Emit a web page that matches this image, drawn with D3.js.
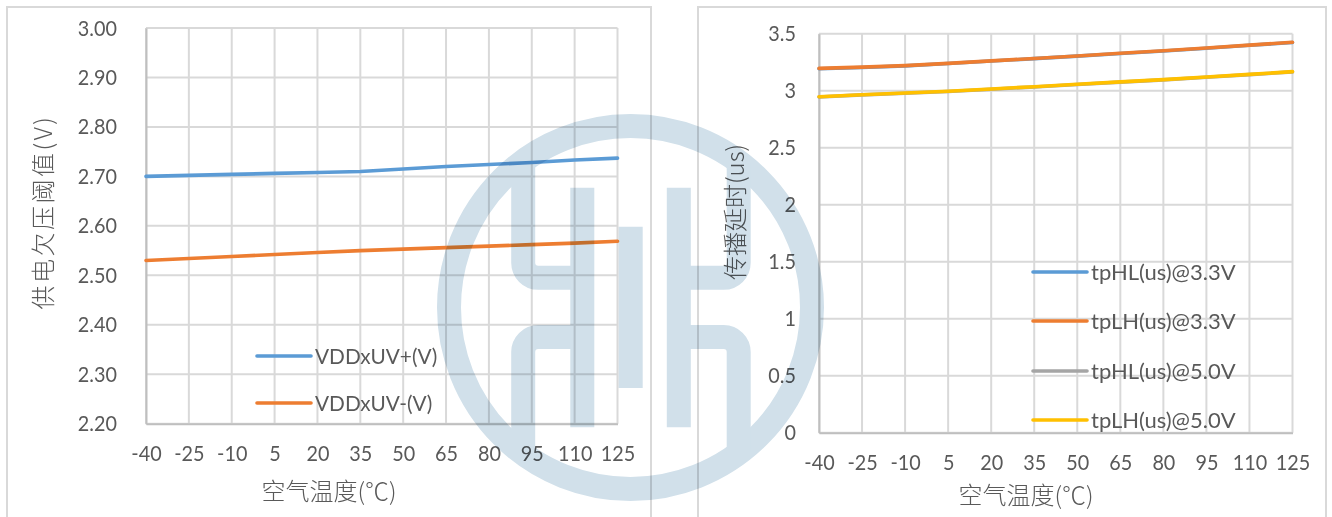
<!DOCTYPE html>
<html><head><meta charset="utf-8">
<script src="https://cdn.jsdelivr.net/npm/d3@7"></script>
<style>
html,body{margin:0;padding:0;background:#fff;overflow:hidden}
svg{display:block}
text{font-family:Lato,"Noto Sans CJK SC",sans-serif;fill:#595959}
.cjk{font-family:"Noto Sans CJK SC",Lato,sans-serif}
</style></head><body>
<svg id="c" width="1332" height="517"></svg>
<script>
const temps = [-40,-25,-10,5,20,35,50,65,80,95,110,125];
const uvPlus  = [2.700,2.702,2.704,2.706,2.708,2.710,2.715,2.720,2.724,2.728,2.733,2.737];
const uvMinus = [2.530,2.534,2.538,2.542,2.546,2.550,2.553,2.556,2.559,2.562,2.565,2.569];
const tpHL33 = [3.193,3.204,3.218,3.238,3.260,3.281,3.303,3.326,3.348,3.373,3.398,3.423];
const tpLH33 = [3.196,3.207,3.220,3.240,3.262,3.283,3.305,3.328,3.350,3.375,3.400,3.425];
const tpHL50 = [2.945,2.963,2.978,2.993,3.013,3.033,3.055,3.075,3.095,3.118,3.141,3.165];
const tpLH50 = [2.947,2.965,2.980,2.995,3.015,3.035,3.057,3.077,3.097,3.120,3.143,3.167];
const leftTicks = [2.2,2.3,2.4,2.5,2.6,2.7,2.8,2.9,3.0];
const rightTicks = [0,0.5,1,1.5,2,2.5,3,3.5];
const BLUE="#5b9bd5",ORANGE="#ed7d31",GREY="#a5a5a5",YELLOW="#ffc000";

const svg = d3.select("#c");

// the reference's labels are a little narrower than Lato at the same height
function squeeze(sel,f){
  sel.each(function(){
    const w=this.getComputedTextLength();
    d3.select(this).attr("textLength",w*f).attr("lengthAdjust","spacingAndGlyphs");
  });
}

function panel(o){
  const g = svg.append("g");
  g.append("rect").attr("x",o.frame[0]).attr("y",o.frame[1]).attr("width",o.frame[2]-o.frame[0]).attr("height",o.frame[3]-o.frame[1])
    .attr("fill","#fff").attr("stroke","#d9d9d9").attr("stroke-width",2);
  const x = d3.scalePoint().domain(temps).range([o.x0,o.x1]);
  const y = d3.scaleLinear().domain(o.domain).range([o.y0,o.y1]);
  g.append("g").selectAll("line").data(o.ticks).join("line")
    .attr("x1",o.x0).attr("x2",o.x1).attr("y1",d=>y(d)).attr("y2",d=>y(d))
    .attr("stroke","#d9d9d9").attr("stroke-width",2);
  g.append("g").selectAll("line").data(temps).join("line")
    .attr("x1",d=>x(d)).attr("x2",d=>x(d)).attr("y1",o.y0).attr("y2",o.y1)
    .attr("stroke","#d9d9d9").attr("stroke-width",2);
  const ax = g.append("g").attr("transform",`translate(0,${o.y0})`).call(d3.axisBottom(x).tickSize(0).tickPadding(o.xPad));
  ax.select(".domain").attr("stroke","#bfbfbf").attr("stroke-width",2);
  ax.selectAll("text").attr("font-size",22).style("font-family","Lato").call(squeeze,0.9);
  const ay = g.append("g").attr("transform",`translate(${o.x0},0)`).call(d3.axisLeft(y).tickValues(o.ticks).tickFormat(o.fmt).tickSize(0).tickPadding(o.yPad));
  ay.select(".domain").attr("stroke","#bfbfbf").attr("stroke-width",2);
  ay.selectAll("text").attr("font-size",22).style("font-family","Lato").call(squeeze,0.9);
  const line = d3.line().x((d,i)=>x(temps[i])).y(d=>y(d));
  o.series.forEach(s=>{
    g.append("path").datum(s.values).attr("d",line).attr("fill","none").attr("stroke",s.color)
      .attr("stroke-width",3.6).attr("stroke-linecap","round");
  });
  o.series.forEach((s,i)=>{
    const ly=o.legend.ys[i];
    g.append("line").attr("x1",o.legend.x).attr("x2",o.legend.x+54).attr("y1",ly).attr("y2",ly)
      .attr("stroke",s.color).attr("stroke-width",3.6).attr("stroke-linecap","round");
    g.append("text").attr("x",o.legend.x+o.legend.dx).attr("y",ly).attr("dy","0.35em").attr("font-size",22).text(s.name).call(squeeze,o.legend.f);
  });
  g.append("text").attr("class","cjk").attr("x",o.xt[0]).attr("y",o.xt[1]).attr("text-anchor","middle").attr("font-size",24).attr("font-weight",300).text("空气温度(℃)");
  g.append("text").attr("class","cjk").attr("transform",`translate(${o.yt[0]},${o.yt[1]}) rotate(-90)`).attr("text-anchor","middle").attr("font-size",24).attr("font-weight",300)
    .style("letter-spacing",o.ls+"px").text(o.ytitle);
}

panel({frame:[7,7,651,520],x0:146,x1:617.5,y0:423.7,y1:28,domain:[2.2,3.0],ticks:leftTicks,fmt:d3.format(".2f"),
  xPad:22,yPad:29,xt:[329,500],yt:[52,212],ytitle:"供电欠压阈值(V)",ls:2.5,
  series:[{name:"VDDxUV+(V)",values:uvPlus,color:BLUE},{name:"VDDxUV-(V)",values:uvMinus,color:ORANGE}],
  legend:{x:257,dx:58,f:0.945,ys:[356,403]}});

panel({frame:[698,7,1326,520],x0:819,x1:1292.5,y0:432.7,y1:33.7,domain:[0,3.5],ticks:rightTicks,fmt:d3.format("~g"),
  xPad:22,yPad:23,xt:[1026,504],yt:[744,212],ytitle:"传播延时(us)",ls:0,
  series:[{name:"tpHL(us)@3.3V",values:tpHL33,color:BLUE},{name:"tpLH(us)@3.3V",values:tpLH33,color:ORANGE},
          {name:"tpHL(us)@5.0V",values:tpHL50,color:GREY},{name:"tpLH(us)@5.0V",values:tpLH50,color:YELLOW}],
  legend:{x:1033,dx:58,f:1.0,ys:[272,321,371,420]}});

const wm = svg.append("g").style("mix-blend-mode","multiply").attr("fill","none").attr("stroke","#d1e0ea").attr("stroke-width",24);
wm.append("circle").attr("cx",630.5).attr("cy",307.5).attr("r",181.5);
[
 "M630.7 226.7V388",
 "M678.8 187.7V427.3",
 "M582.3 187.7V427.3",
 "M678 277.8H723.7A15 15 0 0 0 738.7 262.8V162.4",
 "M678 337H723.7A15 15 0 0 1 738.7 352V452.6",
 "M582 277.8H538.2A15 15 0 0 1 523.2 262.8V162.4",
 "M582 337H538.2A15 15 0 0 0 523.2 352V452.6"
].forEach(d=>wm.append("path").attr("d",d));
</script>
</body></html>
